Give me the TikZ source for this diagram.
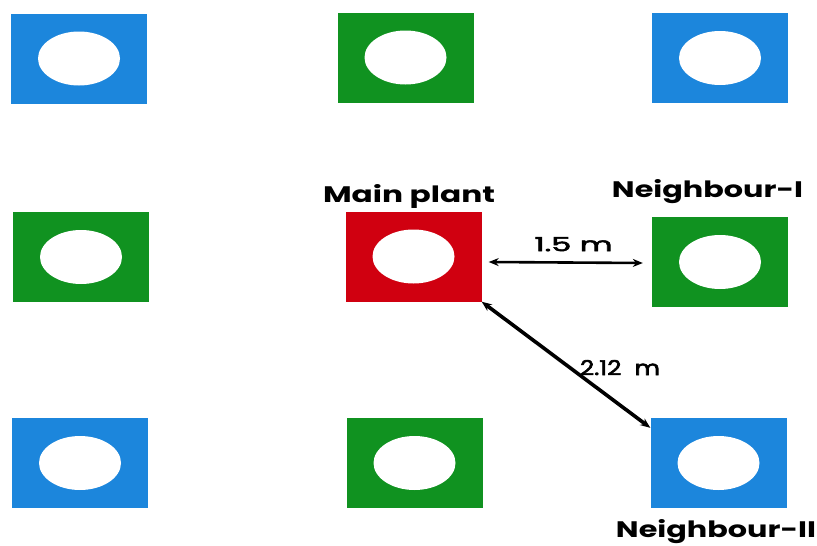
\documentclass[tikz,border=0pt]{standalone}
\usepackage{fontspec}
\setmainfont{Poppins}
\newfontfamily\medfont[FakeBold=2.5]{Poppins}
\usepackage{graphicx}
\usetikzlibrary{arrows.meta}
\definecolor{pblue}{RGB}{28,134,220}
\definecolor{pgreen}{RGB}{16,146,32}
\definecolor{pred}{RGB}{208,0,16}
\begin{document}
\begin{tikzpicture}[x=1pt,y=-1pt,
  plant/.style={rectangle, minimum width=136pt, minimum height=90pt, inner sep=0pt, fill=#1,
    path picture={\fill[white] (path picture bounding box.center) ellipse [x radius=41pt, y radius=27pt];}},
  lbl/.style={inner sep=0pt, anchor=base, text=black},
  dimarrow/.style={black, {Stealth[length=10pt,width=8pt]}-{Stealth[length=10pt,width=8pt]}}]
\fill[white] (0,0) rectangle (817,546);
\useasboundingbox (0,0) rectangle (817,546);
% plants
\node[plant=pblue]  (tl) at (79,58.5) {};
\node[plant=pgreen] (tm) at (405.5,57.5) {};
\node[plant=pblue]  (tr) at (720,58) {};
\node[plant=pgreen] (ml) at (81,257) {};
\node[plant=pred]   (main) at (413.5,256.5) {};
\node[plant=pgreen] (ni) at (720,262) {};
\node[plant=pblue]  (bl) at (80,463) {};
\node[plant=pgreen] (bm) at (414.5,463) {};
\node[plant=pblue]  (nii) at (718.5,463) {};
% labels
\node[lbl] (lmain) at (409,202) {\resizebox{172pt}{18pt}{\bfseries Main plant}};
\node[lbl] (lni) at (707.5,197) {\resizebox{191pt}{18pt}{\bfseries Neighbour-I}};
\node[lbl] (lnii) at (716,537) {\resizebox{200pt}{18pt}{\bfseries Neighbour-II}};
% arrows
\draw[dimarrow, line width=2.6pt] ([xshift=7pt]main.east |- ni.west) -- ([xshift=-9pt,yshift=-1pt]ni.west)
  node[lbl, pos=0.55, above=10pt] (d1) {\resizebox{78pt}{14pt}{\medfont 1.5 m}};
\draw[dimarrow, line width=3.6pt] (main.south east) -- ([yshift=-10pt]nii.north west);
\node[lbl] (d2) at (620,375) {\resizebox{80pt}{15pt}{\medfont 2.12\ \ m}};
\end{tikzpicture}
\end{document}
